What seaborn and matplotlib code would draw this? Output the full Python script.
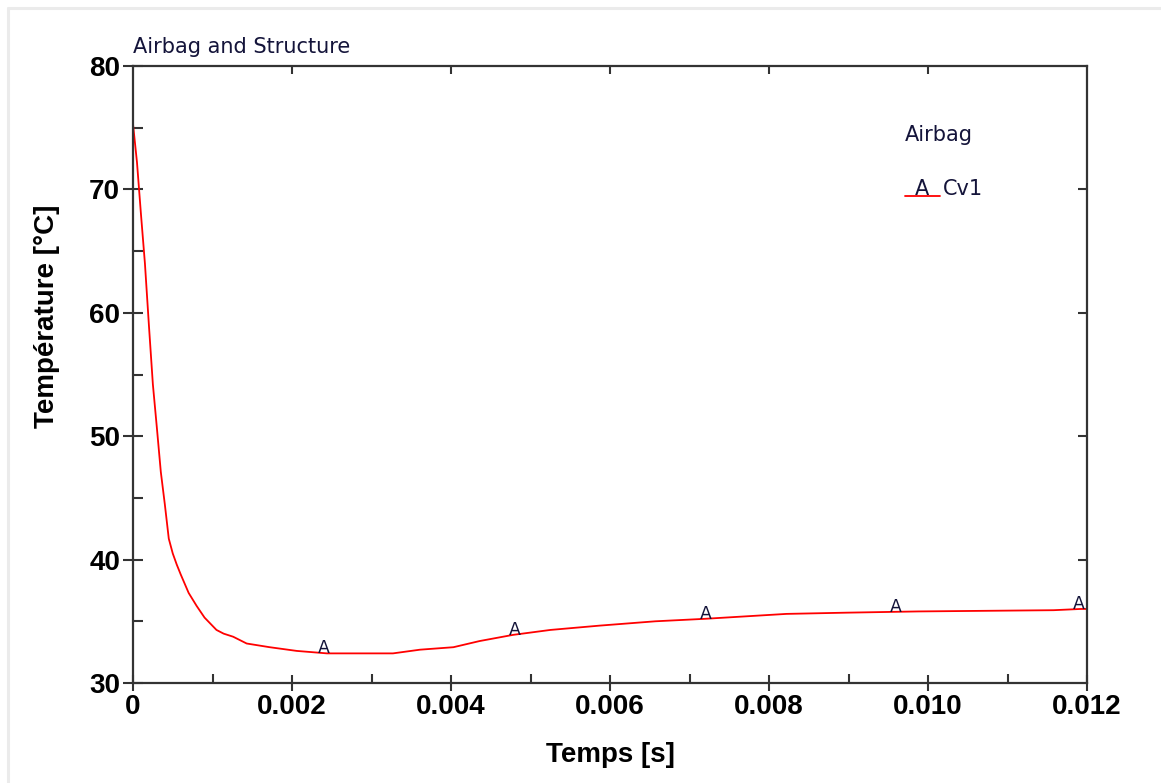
import numpy as np
import pandas as pd
import matplotlib
matplotlib.use("Agg")
import matplotlib.pyplot as plt
import seaborn as sns
from matplotlib.lines import Line2D
from matplotlib.ticker import MultipleLocator

# ── Data ──────────────────────────────────────────────────────────────────────
time_s = [0.0, 0.00005, 0.0001, 0.00015, 0.0002, 0.00025, 0.0003, 0.00035,
          0.0004, 0.00045, 0.0005, 0.00055, 0.0006, 0.0007, 0.0008, 0.0009,
          0.00105, 0.00114, 0.00126, 0.00143, 0.00172, 0.00206, 0.00244,
          0.00327, 0.00361, 0.00403, 0.00436, 0.00478, 0.00525, 0.00587,
          0.00657, 0.00719, 0.00822, 0.00898, 0.00988, 0.01158, 0.01192,
          0.012]
temp_c = [75.3, 72.2, 68.0, 64.0, 59.0, 54.2, 50.7, 47.1,
          44.5, 41.7, 40.5, 39.6, 38.8, 37.3, 36.25, 35.3,
          34.3, 34.0, 33.75, 33.2, 32.9, 32.6, 32.4,
          32.4, 32.7, 32.9, 33.4, 33.9, 34.3, 34.65,
          35.0, 35.2, 35.6, 35.7, 35.8, 35.9, 36.0,
          36.0]

marker_times = [0.0024, 0.0048, 0.0072, 0.0096, 0.0119]
marker_symbol = "A"

x_ticks = [0.0, 0.002, 0.004, 0.006, 0.008, 0.010, 0.012]
x_tick_labels = ["0", "0.002", "0.004", "0.006", "0.008", "0.010", "0.012"]
y_ticks = [30, 40, 50, 60, 70, 80]
top_ticks = [0.002, 0.004, 0.006, 0.008, 0.010]
right_ticks = [40, 50, 60, 70]

title_text = "Airbag and Structure"
legend_title = "Airbag"
series_name = "Cv1"
x_label = "Temps [s]"
y_label = "Température [°C]"

RED = "#ff0000"
INK = "#14143a"
AXIS = "#333333"

df = pd.DataFrame({"time": time_s, "temp": temp_c})

# ── Figure ────────────────────────────────────────────────────────────────────
sns.set_style("white")
plt.rcParams["font.family"] = ["Liberation Sans", "DejaVu Sans"]

fig = plt.figure(figsize=(11.61, 7.83), dpi=100)
ax = fig.add_axes([133 / 1161, 100 / 783, 954 / 1161, 617 / 783])

sns.lineplot(data=df, x="time", y="temp", color=RED, linewidth=1.3, ax=ax,
             legend=False)

# "A" symbols sitting on the curve
for t in marker_times:
    ax.text(t, np.interp(t, time_s, temp_c), marker_symbol, ha="center",
            va="baseline", fontsize=12.5, color=INK, family="DejaVu Sans")

ax.set_xlim(0, 0.012)
ax.set_ylim(30, 80)
ax.set_xticks(x_ticks)
ax.set_xticklabels(x_tick_labels)
ax.set_yticks(y_ticks)
ax.xaxis.set_minor_locator(MultipleLocator(0.001))
ax.yaxis.set_minor_locator(MultipleLocator(5))

for side in ["left", "bottom", "top", "right"]:
    ax.spines[side].set_visible(True)
    ax.spines[side].set_color(AXIS)
    ax.spines[side].set_linewidth(1.6)

ax.tick_params(which="both", bottom=True, left=True, top=False, right=False)
ax.tick_params(axis="x", which="major", direction="inout", length=11.5,
               width=1.5, color=AXIS, pad=2, labelsize=20)
ax.tick_params(axis="x", which="minor", direction="in", length=6.5,
               width=1.5, color=AXIS)
ax.tick_params(axis="y", which="major", direction="inout", length=14.5,
               width=1.5, color=AXIS, pad=2, labelsize=20)
ax.tick_params(axis="y", which="minor", direction="in", length=7.2,
               width=1.5, color=AXIS)
for lab in ax.get_xticklabels() + ax.get_yticklabels():
    lab.set_fontweight("bold")
    lab.set_color("black")

# inward ticks on top and right frame
top = ax.secondary_xaxis("top")
top.set_xticks(top_ticks)
top.tick_params(direction="in", length=5.8, width=1.5, color=AXIS,
                top=True, labeltop=False)
top.spines["top"].set_visible(False)
right = ax.secondary_yaxis("right")
right.set_yticks(right_ticks)
right.tick_params(direction="in", length=6.2, width=1.5, color=AXIS,
                  right=True, labelright=False)
right.spines["right"].set_visible(False)

ax.set_xlabel(x_label, fontsize=20, fontweight="bold", color="black")
ax.set_ylabel(y_label, fontsize=20, fontweight="bold", color="black")
ax.xaxis.label.set_va("center")
ax.yaxis.label.set_va("center")
ax.xaxis.set_label_coords(0.5, (683 - 755) / 617)
ax.yaxis.set_label_coords((47 - 133) / 954, (683 - 316) / 617)

ax.text(0, (683 - 47) / 617, title_text, transform=ax.transAxes, ha="left",
        va="center", fontsize=15, color=INK, family="DejaVu Sans")

# hand-drawn legend, as in the source tool
ax.text(0.809, (683 - 135) / 617, legend_title, transform=ax.transAxes,
        ha="left", va="center", fontsize=15, color=INK, family="DejaVu Sans")
ly = (683 - 196) / 617
ax.add_line(Line2D([0.809, 0.846], [ly, ly], transform=ax.transAxes,
                   color=RED, linewidth=1.3))
ax.text(0.8275, ly + 0.001, marker_symbol, transform=ax.transAxes,
        ha="center", va="baseline", fontsize=15, color=INK,
        family="DejaVu Sans")
ax.text(0.849, ly + 0.001, series_name, transform=ax.transAxes, ha="left",
        va="baseline", fontsize=15, color=INK, family="DejaVu Sans")

# light grey window frame
fig.add_artist(Line2D([7.5 / 1161, 7.5 / 1161], [0, 1 - 8 / 783],
                      transform=fig.transFigure, color="#ebebeb", linewidth=2.2))
fig.add_artist(Line2D([7.5 / 1161, 1], [1 - 8 / 783, 1 - 8 / 783],
                      transform=fig.transFigure, color="#ebebeb", linewidth=2.2))

fig.savefig("out.png", dpi=100)
